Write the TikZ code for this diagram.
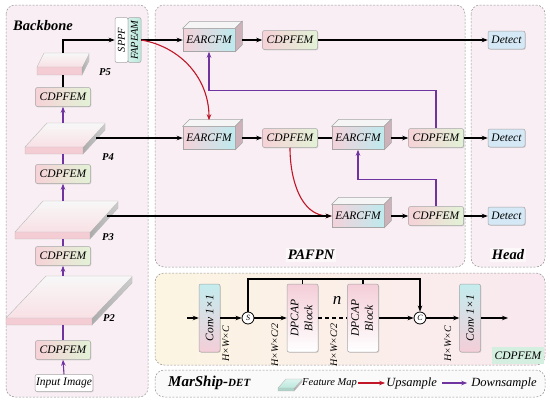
\documentclass[tikz,border=0pt]{standalone}
\usepackage{fontspec}
\setmainfont{Liberation Serif}
\usepackage{graphicx}
\usepackage{tikz}
\usetikzlibrary{arrows.meta,positioning,shadows}

\definecolor{pnlbg}{RGB}{248,238,243}
\definecolor{pnledge}{RGB}{150,150,150}
\definecolor{cdpL}{RGB}{246,210,215}
\definecolor{cdpR}{RGB}{226,242,214}
\definecolor{earL}{RGB}{244,210,218}
\definecolor{earR}{RGB}{190,234,238}
\definecolor{earside}{RGB}{205,178,186}
\definecolor{detfill}{RGB}{212,232,245}
\definecolor{upred}{RGB}{192,22,40}
\definecolor{dnpurple}{RGB}{112,52,160}
\definecolor{slabpink}{RGB}{244,204,212}
\definecolor{convC}{RGB}{196,236,238}
\definecolor{convP}{RGB}{244,206,216}
\definecolor{fapC}{RGB}{186,232,220}
\definecolor{tagG}{RGB}{212,238,224}
\definecolor{cpYel}{RGB}{252,245,226}
\definecolor{cpPink}{RGB}{249,232,240}

\tikzset{
  pics/slab/.style n args={4}{code={
    % #1 width, #2/#3 depth offset, #4 thickness
    \shade[slabside] (#1,0) -- ++(#2,#3) -- ++(0,-#4) -- (#1,-#4) -- cycle;
    \fill[slabfront] (0,0) rectangle (#1,-#4);
    \shade[slabtop] (0,0) -- (#1,0) -- ++(#2,#3) -- (#2,#3) -- cycle;
    \draw[slabedge] (#1,-#4) -- (0,-#4) -- (0,0) -- (#2,#3) -- ++(#1,0)
      -- ++(0,-#4) -- (#1,-#4) -- (#1,0) -- (0,0);
    \coordinate (-top) at ({(#1+#2)/2},#3);
    \coordinate (-bot) at ({#1/2},-#4);
    \coordinate (-side) at ({#1+0.6*#2},{#3/2-#4/2});
  }}
}

\newcommand{\earcube}[3]{%
  \node[cubef] (#1) at (#2) {#3};
  \filldraw[cubetop] (#1.north west) -- ([shift={(7,7)}]#1.north west)
    -- ([shift={(7,7)}]#1.north east) -- (#1.north east) -- cycle;
  \filldraw[cubeside] (#1.north east) -- ([shift={(7,7)}]#1.north east)
    -- ([shift={(7,7)}]#1.south east) -- (#1.south east) -- cycle;
}

\begin{document}
\begin{tikzpicture}[x=1pt, y=1pt,
  panel/.style={draw=pnledge, dash pattern=on 2pt off 1.5pt, line width=0.5pt, rounded corners=9pt, fill=pnlbg},
  shd/.style={drop shadow={opacity=0.25, shadow xshift=0.8pt, shadow yshift=-0.8pt}},
  box/.style={draw=gray!70, rounded corners=2pt, line width=0.5pt, inner sep=1pt, font=\fontsize{11.5}{12}\selectfont\itshape},
  cdp/.style={box, shd, minimum width=55pt, minimum height=19pt, left color=cdpL, right color=cdpR},
  det/.style={box, shd, minimum width=37pt, minimum height=18pt, fill=detfill, font=\fontsize{11.5}{12}\selectfont\itshape},
  cubef/.style={box, rounded corners=0pt, minimum width=52pt, minimum height=23pt, left color=earL, right color=earR},
  cubetop/.style={draw=gray!70, line width=0.5pt, fill=gray!8},
  cubeside/.style={draw=gray!70, line width=0.5pt, fill=earside},
  slabtop/.style={top color=gray!6, bottom color=slabpink!60},
  slabfront/.style={fill=slabpink},
  slabside/.style={left color=gray!65, right color=gray!40},
  slabedge/.style={draw=gray!55, line width=0.4pt},
  conv/.style={box, shd, minimum width=21pt, minimum height=68pt, top color=convC, bottom color=convP, font=\fontsize{11.5}{12}\selectfont\itshape},
  dpc/.style={box, shd, minimum width=31pt, minimum height=68pt, top color=convP, bottom color=white, font=\fontsize{11.5}{14}\selectfont\itshape},
  op/.style={draw, circle, line width=0.8pt, inner sep=0pt, minimum size=12pt, fill=white, font=\fontsize{8}{9}\selectfont\itshape},
  dim/.style={inner sep=0pt, font=\fontsize{10}{11}\selectfont\itshape},
  ttl/.style={inner sep=2pt, font=\fontsize{14.5}{16}\selectfont\bfseries\itshape},
  plbl/.style={inner sep=0pt, font=\fontsize{10.5}{12}\selectfont\bfseries\itshape},
  arr/.style={-{Stealth[length=6pt,width=4.5pt]}, line width=1.1pt},
  ln/.style={line width=1.1pt},
  uparr/.style={arr, draw=upred},
  dsarr/.style={arr, draw=dnpurple},
  dsln/.style={ln, draw=dnpurple}
]
\useasboundingbox (0,0) rectangle (550,-402);

% panels
\path[panel] (6,-5) rectangle (148,-397);
\path[panel] (155,-5) rectangle (465,-267);
\path[panel] (471,-5) rectangle (545,-267);
\path[panel, left color=cpYel, right color=cpPink] (155,-273) rectangle (545,-365);
\path[panel, fill=gray!4] (155,-370) rectangle (545,-397);

% backbone
\node[ttl, anchor=west] (bbt) at (11,-26) {Backbone};
\node[box, minimum width=13pt, minimum height=45pt, fill=white, font=\fontsize{10.5}{12}\selectfont\itshape] (sppf) at (121.5,-40) {\rotatebox{90}{SPPF}};
\node[box, minimum width=13pt, minimum height=45pt, left color=white!40!fapC, right color=fapC, font=\fontsize{10.5}{12}\selectfont\itshape] (fapeam) at (134.5,-40) {\rotatebox{90}{FAPEAM}};
\pic (p5) at (37,-67) {slab={45}{7}{14}{8}};
\node[plbl] (p5l) at (105,-72) {P5};
\node[cdp] (cd1) at (63,-97) {CDPFEM};
\pic (p4) at (25,-147) {slab={58}{22}{24}{7}};
\node[plbl] (p4l) at (108,-157) {P4};
\node[cdp] (cd2) at (63,-174) {CDPFEM};
\pic (p3) at (15,-232) {slab={75}{28}{31}{7}};
\node[plbl] (p3l) at (108,-237) {P3};
\node[cdp] (cd3) at (63,-256) {CDPFEM};
\pic (p2) at (6,-318) {slab={86}{40}{42}{7}};
\node[plbl] (p2l) at (109,-318) {P2};
\node[cdp] (cd4) at (63,-350) {CDPFEM};
\node[box, shd, fill=white, minimum width=57pt, minimum height=17pt] (img) at (64,-383) {Input Image};

\draw[arr] (p5-top) |- (sppf.west);
\draw[ln] (cd1.north) -- (cd1.north |- p5-bot);
\draw[dsarr] (cd1.south |- p4-top) -- (cd1.south);
\draw[dsln] (cd2.north) -- (cd2.north |- p4-bot);
\draw[dsarr] (cd2.south |- p3-top) -- (cd2.south);
\draw[dsln] (cd3.north) -- (cd3.north |- p3-bot);
\draw[dsarr] (cd3.south |- p2-top) -- (cd3.south);
\draw[dsln] (cd4.north) -- (cd4.north |- p2-bot);
\draw[dsarr] (img.north) -- (cd4.south);

% PAFPN
\earcube{ear1}{209,-40}{EARCFM}
\node[cdp] (cp1) at (290,-40) {CDPFEM};
\earcube{ear2}{209,-138}{EARCFM}
\node[cdp] (cp2) at (290,-138) {CDPFEM};
\earcube{ear3}{358,-138}{EARCFM}
\node[cdp] (cp3) at (436,-138) {CDPFEM};
\earcube{ear4}{358,-216}{EARCFM}
\node[cdp] (cp4) at (436,-216) {CDPFEM};
\node[ttl, fill=white!60!pnlbg] (paft) at (311,-255) {PAFPN};

% head
\node[det] (det1) at (506.5,-40) {Detect};
\node[det] (det2) at (506.5,-138) {Detect};
\node[det] (det3) at (506.5,-216) {Detect};
\node[ttl, fill=white!60!pnlbg] (headt) at (508,-255) {Head};

\draw[arr] (fapeam.east) -- (ear1.west);
\draw[arr] ([xshift=7pt]ear1.east) -- (cp1.west);
\draw[arr] (cp1.east) -- (det1.west);
\draw[uparr] (fapeam.east) to[out=-10,in=90] ([yshift=6pt]ear2.north);
\draw[arr] (p4-side |- ear2.west) -- (ear2.west);
\draw[arr] ([xshift=7pt]ear2.east) -- (cp2.west);
\draw[ln] (cp2.east) -- (ear3.west);
\draw[arr] ([xshift=7pt]ear3.east) -- (cp3.west);
\draw[arr] (cp3.east) -- (det2.west);
\draw[dsarr] (cp3.north) -- ++(0,38) -| (ear1.south);
\draw[uparr] (cp2.south) to[out=-90,in=180] (ear4.west);
\draw[arr] (p3-side |- ear4.west) -- (ear4.west);
\draw[arr] ([xshift=7pt]ear4.east) -- (cp4.west);
\draw[arr] (cp4.east) -- (det3.west);
\draw[dsarr] (cp4.north) -- ++(0,27) -| (ear3.south);

% CDPFEM detail
\coordinate (fin) at (187,-318);
\node[conv] (cv1) at (209.5,-318) {\rotatebox{90}{Conv 1×1}};
\node[op] (sp) at (248,-318) {S};
\node[dpc] (dp1) at (302.5,-318) {\rotatebox{90}{\begin{tabular}{@{}c@{}}DPCAP\\Block\end{tabular}}};
\node[dpc] (dp2) at (363,-318) {\rotatebox{90}{\begin{tabular}{@{}c@{}}DPCAP\\Block\end{tabular}}};
\node[op] (cat) at (420,-318) {C};
\node[conv] (cv2) at (470,-318) {\rotatebox{90}{Conv 1×1}};
\coordinate (fout) at (508,-318);
\coordinate (bus) at (248,-279);
\node[dim] (d1) at (226,-344) {\rotatebox{90}{H×W×C}};
\node[dim] (d2) at (275,-345) {\rotatebox{90}{H×W×C/2}};
\node[dim] (d3) at (334,-345) {\rotatebox{90}{H×W×C/2}};
\node[dim] (d4) at (448,-344) {\rotatebox{90}{H×W×C}};
\node[inner sep=0pt, font=\fontsize{17}{18}\selectfont\itshape] (nn) at (337,-300) {n};
\node[box, draw=none, fill=tagG, rounded corners=0pt, anchor=south east, minimum height=17pt, inner sep=3pt] (tag) at (544.5,-364.5) {CDPFEM};

\draw[arr] (fin) -- (cv1.west);
\draw[arr] (cv1.east) -- (sp.west);
\draw[arr] (sp.east) -- (dp1.west);
\draw[ln, dash pattern=on 4pt off 3pt] (dp1.east) -- (dp2.west);
\draw[arr] (dp2.east) -- (cat.west);
\draw[arr] (cat.east) -- (cv2.west);
\draw[arr] (cv2.east) -- (fout);
\draw[arr] (sp.north) -- (bus) -| (cat.north);
\draw[ln] (dp1.north) -- (dp1.north |- bus);
\draw[ln] (dp2.north) -- (dp2.north |- bus);

% legend
\node[ttl, anchor=west, font=\fontsize{15}{16}\selectfont\bfseries\itshape] (mst) at (166,-383) {MarShip-{\fontsize{11}{12}\selectfont DET}};
\begin{scope}[slabtop/.style={top color=fapC!50, bottom color=fapC}, slabfront/.style={fill=fapC!80!gray}]
\pic (fm) at (278,-388) {slab={16}{8}{9}{3}};
\end{scope}
\node[inner sep=1pt, anchor=west, font=\fontsize{10.5}{12}\selectfont\itshape] (ftxt) at (301,-383) {Feature Map};
\node[inner sep=1pt, right=27pt of ftxt, font=\fontsize{12.5}{14}\selectfont\itshape] (utxt) {Upsample};
\node[inner sep=1pt, right=32pt of utxt, font=\fontsize{12.5}{14}\selectfont\itshape] (dtxt) {Downsample};
\draw[uparr] (ftxt.east) -- (utxt.west);
\draw[dsarr, shorten <=4pt, shorten >=3pt] (utxt.east) -- (dtxt.west);
\end{tikzpicture}
\end{document}
